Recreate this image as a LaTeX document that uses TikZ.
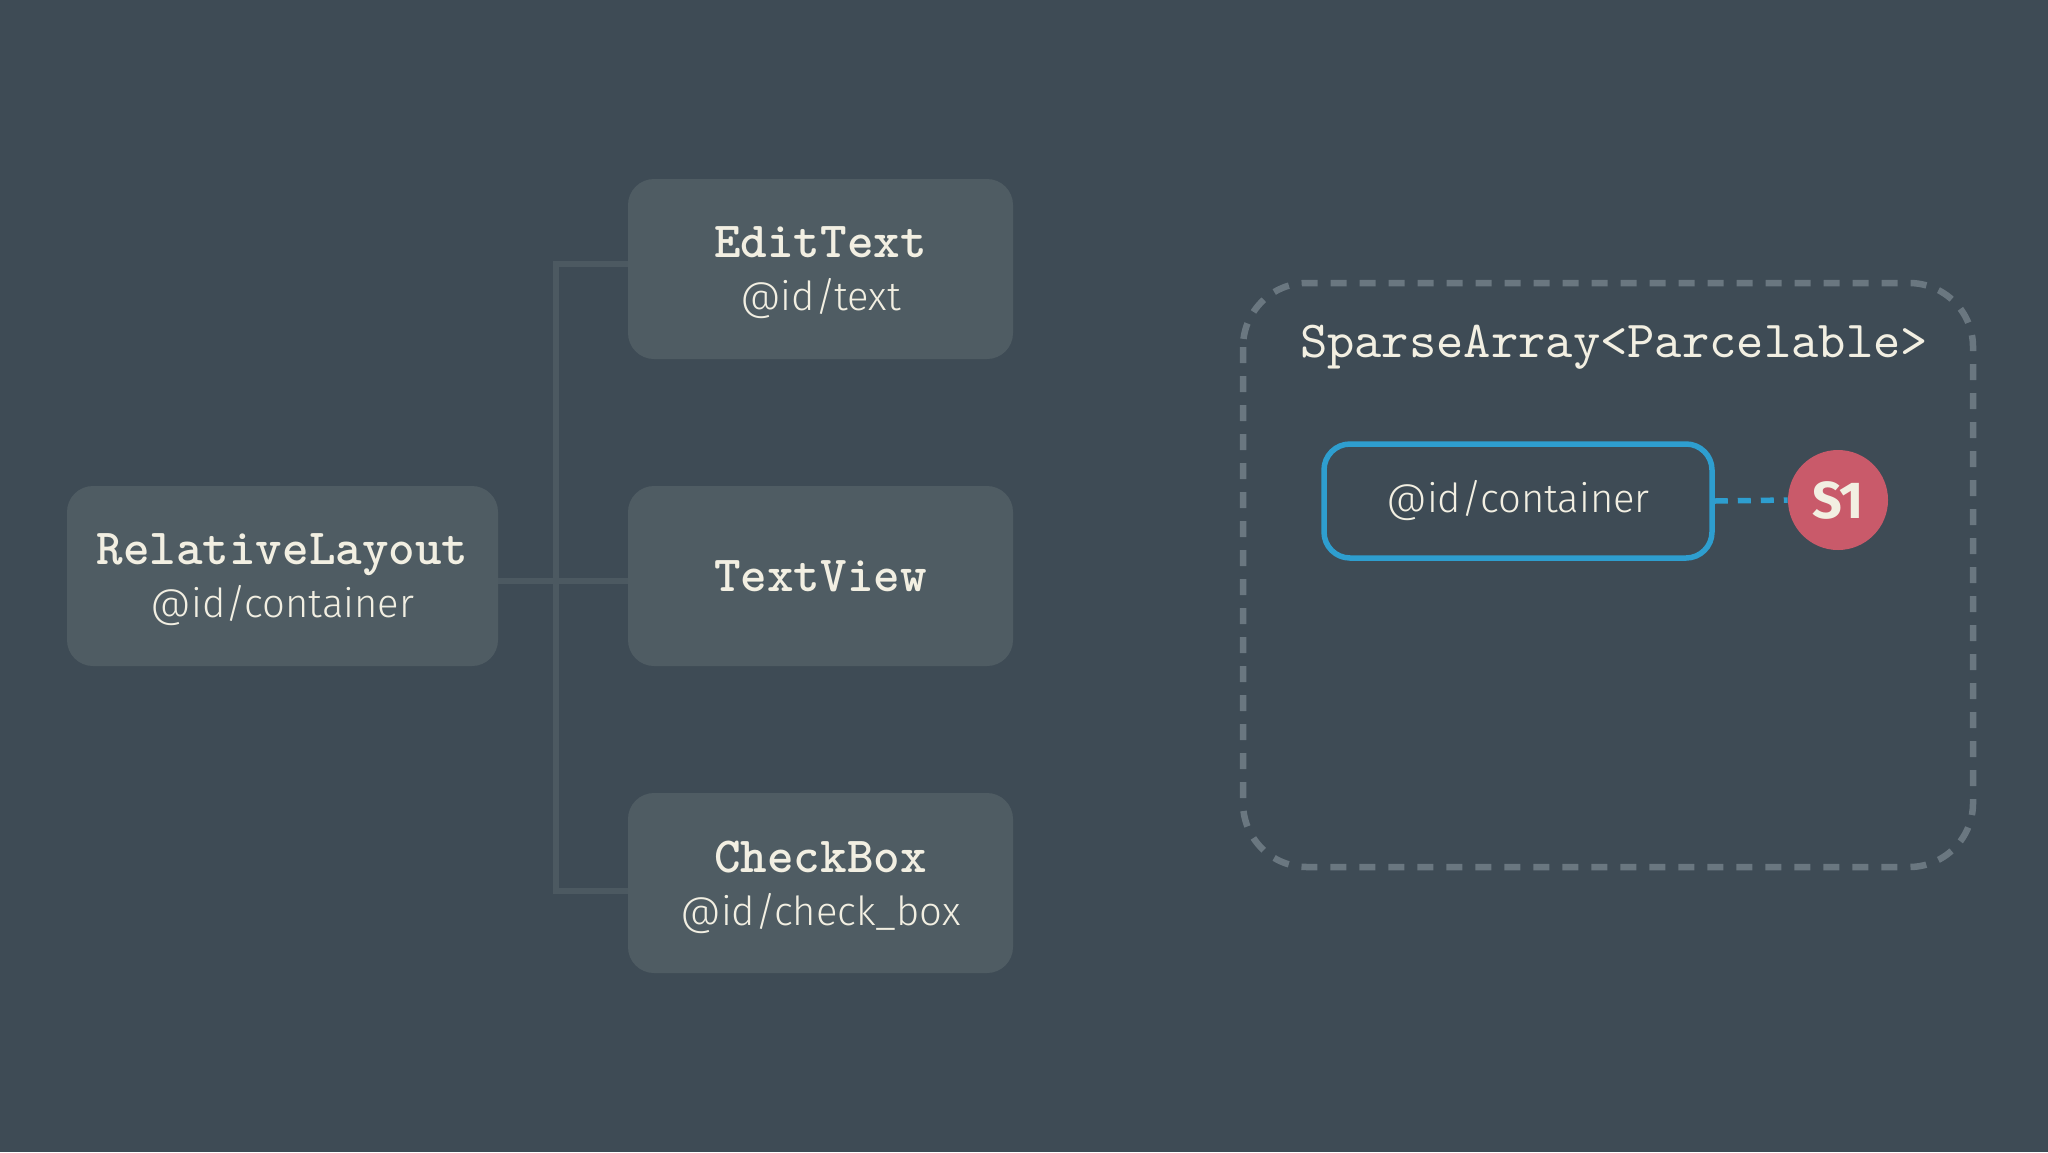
\documentclass[tikz,border=0pt]{standalone}
\usepackage{fontspec}
\newfontfamily\monob{lmmonolt10-bold.otf}
\newfontfamily\monor{lmmono10-regular.otf}
\newfontfamily\lightsans{Fira Sans Light}
\newfontfamily\boldsans{Fira Sans}[UprightFont={* Bold}]
\definecolor{bg}{HTML}{3E4B55}
\definecolor{boxfill}{HTML}{4F5C63}
\definecolor{linec}{HTML}{4C5961}
\definecolor{cream}{HTML}{F2EFE2}
\definecolor{bluec}{HTML}{2E9ECF}
\definecolor{redc}{HTML}{C95A6A}
\definecolor{dashc}{HTML}{6A7780}
\tikzset{
  viewbox/.style={rounded corners=13pt, fill=boxfill, draw=none, minimum width=192.5pt, minimum height=90pt, align=center, text=cream, inner sep=0pt, text depth=0pt, font=\fontsize{20}{26.5}\selectfont},
  conn/.style={draw=linec, line width=3pt},
}
\newcommand{\ttl}[1]{{\monob\fontsize{25.3}{26.5}\selectfont #1}}
\newcommand{\subid}[1]{{\lightsans\fontsize{20}{26.5}\selectfont #1}}
\begin{document}
\begin{tikzpicture}[x=0.5pt,y=-0.5pt]
\fill[bg] (0,0) rectangle (2048,1152);
\useasboundingbox (0,0) rectangle (2048,1152);
% nodes
\node[viewbox, minimum width=215.5pt] (rel) at (282.5,576) {\ttl{RelativeLayout}\\\subid{@id/container}};
\node[viewbox] (et) at (820.5,269) {\ttl{EditText}\\\subid{@id/text}};
\node[viewbox] (tv) at (820.5,576) {\ttl{TextView}};
\node[viewbox] (cb) at (820.5,883) {\ttl{CheckBox}\\\subid{@id/check\_box}};
\coordinate (j) at (556,581);
% connectors
\draw[conn] (rel.east |- j) -- (tv.west |- j);
\draw[conn] ([yshift=2.5pt]et.west) -| (j) |- ([yshift=-4pt]cb.west);
% sparse array container
\draw[draw=dashc, line width=3.25pt, dash pattern=on 8pt off 6.5pt, rounded corners=32pt] (1243,283) rectangle (1973,867);
\node[text=cream, font=\monor\fontsize{26}{30}\selectfont] (sa) at (1614,347) {SparseArray<Parcelable>};
\node[draw=bluec, line width=2.75pt, rounded corners=13pt, minimum width=194pt, minimum height=57pt, text=cream, font=\lightsans\fontsize{20}{24}\selectfont, inner sep=0pt] (cid) at (1518,501) {@id/container};
\node[circle, fill=redc, minimum size=50pt, inner sep=0pt, text=cream, font=\boldsans\fontsize{26}{28}\selectfont] (s1) at (1838,500) {S1};
\draw[draw=bluec, line width=2.75pt, dash pattern=on 6.5pt off 5pt] (cid.east) -- (s1.west);
\end{tikzpicture}
\end{document}
